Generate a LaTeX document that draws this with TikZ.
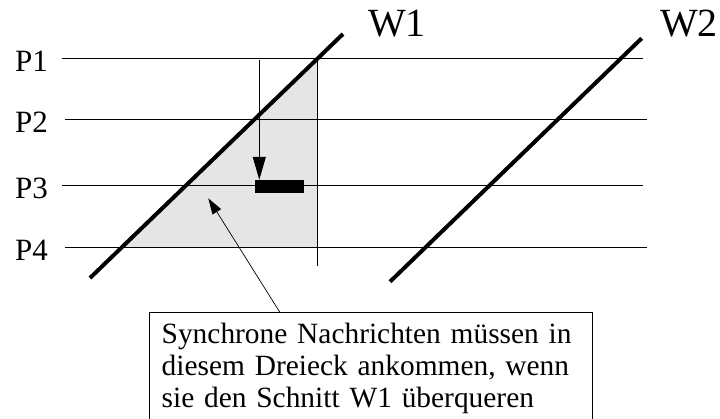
\documentclass[tikz,border=0pt]{standalone}
\usepackage{fontspec}
\setmainfont{Liberation Serif}
\usetikzlibrary{arrows.meta,positioning,calc}

\begin{document}
\begin{tikzpicture}[x=1pt, y=-1pt,
    proc/.style={line width=0.9pt},
    cut/.style={line width=4pt},
    ev/.style={-{Triangle[length=23pt, width=13pt]}, line width=1pt},
    cau/.style={-{Triangle[length=16pt, width=10pt]}, line width=0.7pt},
    bar/.style={rectangle, fill=black, inner sep=0pt, minimum width=49.3pt, minimum height=13.3pt},
    plbl/.style={font=\fontsize{31}{31}\selectfont, inner sep=0pt, anchor=base west},
    wlbl/.style={font=\fontsize{40}{40}\selectfont, inner sep=0pt, anchor=base west},
    lbl/.style={font=\fontsize{29.4}{32}\selectfont, align=left, text width=418.8pt, inner xsep=12pt, inner ysep=10.5pt, anchor=north west}
]
\useasboundingbox (0,0) rectangle (720,419);
% Dreieck
\fill[gray!20] (317.8,58.3) -- (317.8,247.3) -- (121.8,247.3) -- cycle;
% Prozesse
\foreach \i/\y/\xs/\xe in {1/58.3/61.7/643, 2/119.3/65/646.7, 3/185/62/643, 4/247.3/65/646.7} {
  \coordinate (p\i w) at (\xs,\y);
  \coordinate (p\i e) at (\xe,\y);
  \draw[proc] (p\i w) -- (p\i e);
  \node[plbl] (lp\i) at (15,\y+13.4) {P\i};
}
\coordinate (vt) at (317.8,60);
\coordinate (vb) at (317.8,266);
\draw[line width=0.8pt] (vt) -- (vb);
% Schnitte
\coordinate (w1s) at (90,278);
\coordinate (w1e) at (343,34);
\coordinate (w2s) at (390,281.7);
\coordinate (w2e) at (641.7,38.3);
\draw[cut] (w1s) -- (w1e);
\draw[cut] (w2s) -- (w2e);
\node[wlbl] (w1) at (368,36.7) {W1};
\node[wlbl] (w2) at (660,36.7) {W2};
% Nachricht
\node[bar] (rcv) at (279.65,186.65) {};
\coordinate (snd) at (259.3,60);
\draw[ev] (snd) -- (snd |- rcv.north);
% Erklaerung
\node[lbl] (txt) at (149.5,312.5) {Synchrone Nachrichten müssen in\\diesem Dreieck ankommen, wenn\\sie den Schnitt W1 überqueren};
\draw[line width=0.8pt] (txt.north west) rectangle ([yshift=-40pt]txt.south east);
\coordinate (tri) at (208.3,198.3);
\draw[cau] ($(txt.north west)+(130.5,0)$) -- (tri);
\end{tikzpicture}
\end{document}
